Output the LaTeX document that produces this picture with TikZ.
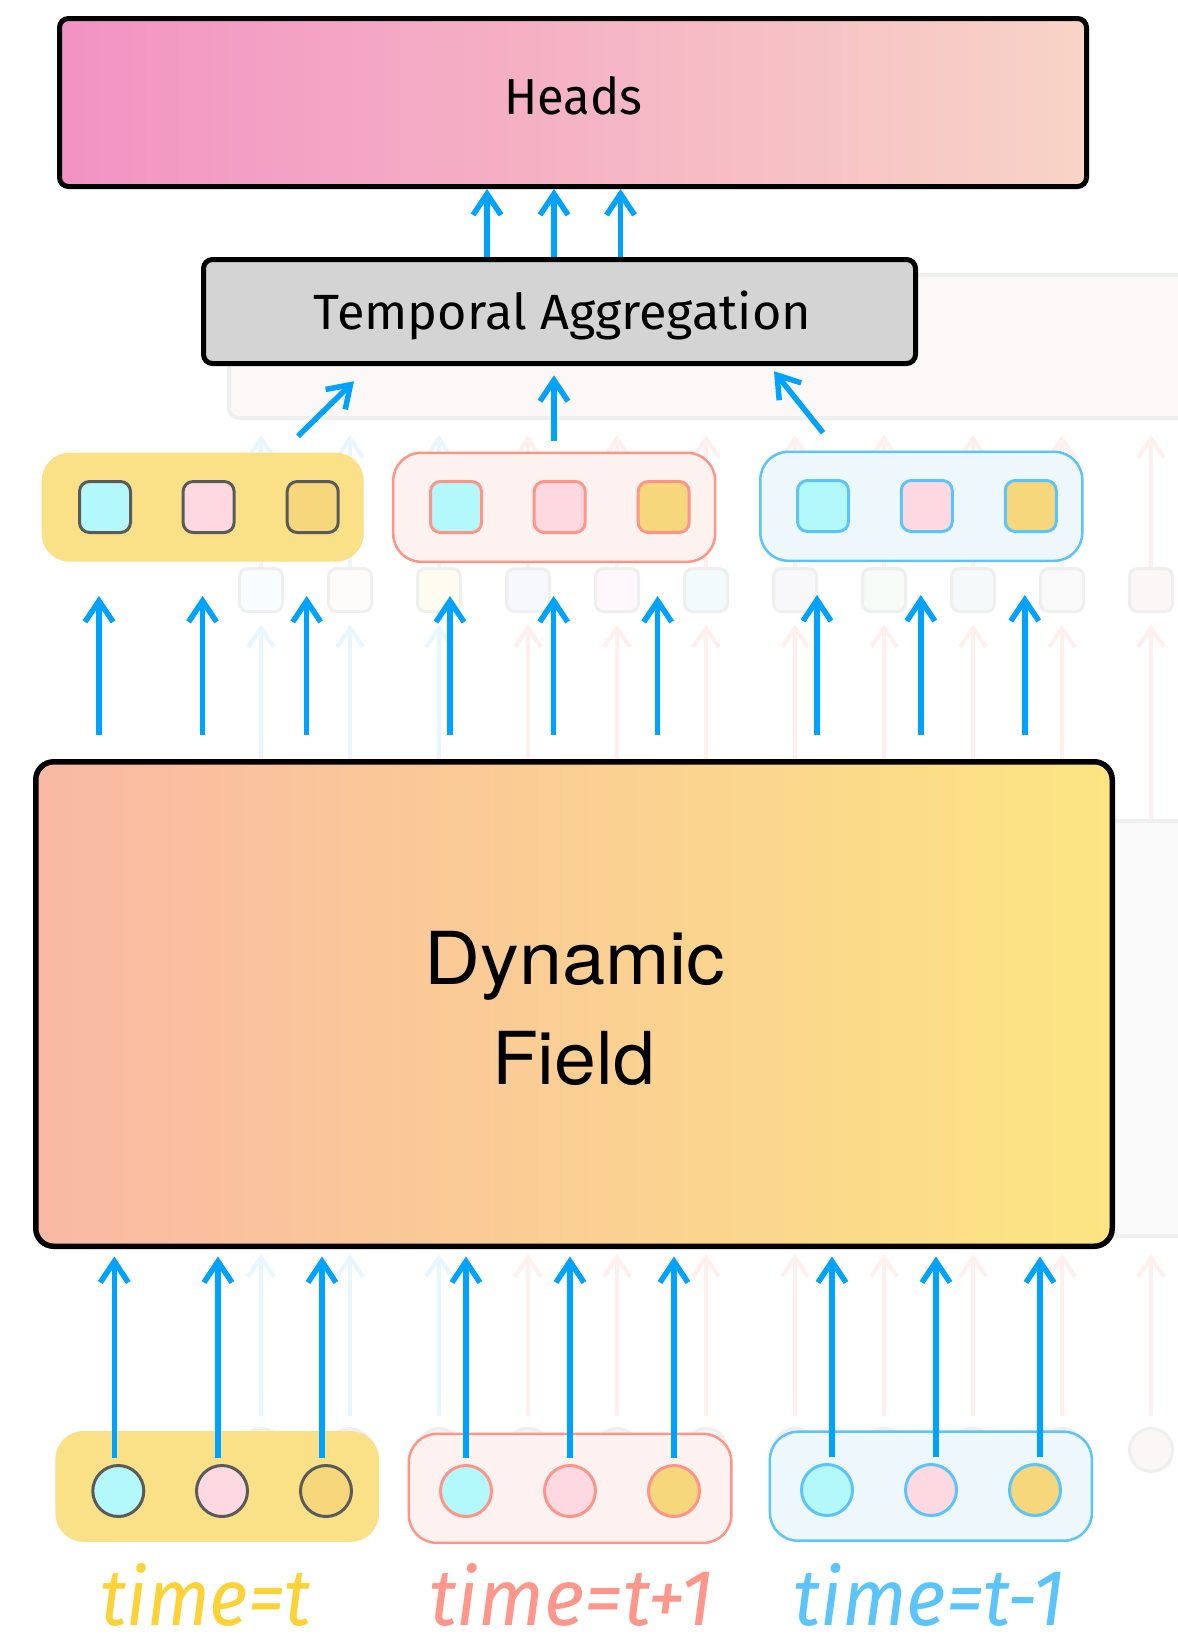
\documentclass[tikz,border=0pt]{standalone}
\usepackage{fontspec}
\setmainfont{Fira Sans}
\newfontfamily\fieldfont{TeX Gyre Heros}
\usetikzlibrary{arrows.meta,calc}

% palette
\definecolor{arrowblue}{HTML}{00A2FF}
\definecolor{headsL}{HTML}{F293C3}
\definecolor{headsR}{HTML}{F8D4C6}
\definecolor{aggfill}{HTML}{D4D4D4}
\definecolor{fieldL}{HTML}{F9B9A4}
\definecolor{fieldR}{HTML}{FCE582}
\definecolor{grpyellow}{HTML}{FAE187}
\definecolor{grppinkfill}{HTML}{FEF2F1}
\definecolor{grppinkline}{HTML}{FF9589}
\definecolor{grpbluefill}{HTML}{EEF8FC}
\definecolor{grpblueline}{HTML}{5CC4FA}
\definecolor{tokcyan}{HTML}{B3F9FC}
\definecolor{tokpink}{HTML}{FFD9E2}
\definecolor{tokgold}{HTML}{F6D77C}
\definecolor{tokgray}{HTML}{5A5A5A}
\definecolor{timeyellow}{HTML}{FDD236}
\definecolor{timepink}{HTML}{FF968B}
\definecolor{timeblue}{HTML}{5BC4FB}
% faint layer in the back
\definecolor{ghostblue}{HTML}{E8F6FF}
\definecolor{ghostpink}{HTML}{FFF0EE}
\definecolor{ghostline}{HTML}{EFEFEF}
\definecolor{ghostagg}{HTML}{FDF8F8}
\definecolor{ghostfield}{HTML}{FAFAFA}
\definecolor{gfA}{HTML}{F8FEFF}
\definecolor{gfB}{HTML}{FDFCFA}
\definecolor{gfC}{HTML}{FEFBF0}
\definecolor{gfD}{HTML}{F7F8FC}
\definecolor{gfE}{HTML}{FEF8FC}
\definecolor{gfF}{HTML}{F2FAFC}
\definecolor{gfG}{HTML}{F8F8FA}
\definecolor{gfH}{HTML}{F7FBF8}
\definecolor{gfI}{HTML}{F5F9FA}
\definecolor{gfJ}{HTML}{F9F9F9}
\definecolor{gfK}{HTML}{FBF7F6}

\begin{document}
\begin{tikzpicture}[x=1pt,y=-1pt,
  arr/.style={draw=arrowblue, line width=5.5pt,
    -{Straight Barb[length=21pt,width=28pt]}},
  ghostarr/.style={line width=4pt,
    -{Straight Barb[length=19pt,width=26pt]}},
  bigbox/.style={draw=black, line width=5pt, rounded corners=9pt, inner sep=0pt},
  grp/.style={rounded corners=28pt, line width=2.5pt, inner sep=0pt,
    minimum width=322pt, minimum height=109pt},
  tok/.style={draw, line width=3pt, rounded corners=10pt, inner sep=0pt,
    minimum width=51pt, minimum height=51pt},
  tokdot/.style={circle, draw, line width=3pt, inner sep=0pt, minimum size=51pt},
  ghosttok/.style={draw=ghostline, line width=3pt, rounded corners=8pt, inner sep=0pt,
    minimum width=43pt, minimum height=43pt},
  ghostdot/.style={circle, draw=ghostline, fill=gfK, line width=3pt, inner sep=0pt,
    minimum size=43pt},
  label/.style={anchor=base, inner sep=0pt},
]
\useasboundingbox (0,0) rectangle (1178,1634);
\fill[white] (0,0) rectangle (1178,1634);

% ---------- faint layer behind ----------
\node[draw=ghostline, fill=ghostagg, line width=4pt, rounded corners=10pt,
  minimum width=969pt, minimum height=143pt] (gAgg) at (713.5,346.5) {};
\node[draw=ghostline, fill=ghostfield, line width=4pt,
  minimum width=106pt, minimum height=415pt] (gField) at (1145,1028.5) {};
\foreach \k/\gf/\gc in {0/gfA/ghostblue,1/gfB/ghostblue,2/gfC/ghostblue,
    3/gfD/ghostpink,4/gfE/ghostpink,5/gfF/ghostpink,6/gfG/ghostpink,
    7/gfH/ghostpink,8/gfI/ghostpink,9/gfJ/ghostpink,10/gfK/ghostpink}{
  \node[ghosttok, fill=\gf] (gsq\k) at (261+89*\k,590) {};
  \node[ghostdot] (gc\k) at (261+89*\k,1450) {};
  \draw[ghostarr, draw=\gc, shorten >=15pt] (gsq\k.north) -- (gsq\k.north |- gAgg.south);
  \draw[ghostarr, draw=\gc, shorten >=11.5pt] (gsq\k.south |- gField.north) -- (gsq\k.south);
  \draw[ghostarr, draw=\gc, shorten <=11.5pt, shorten >=16pt] (gc\k.north) -- (gc\k.north |- gField.south);
}

% ---------- main blocks ----------
\node[bigbox, left color=headsL, right color=headsR,
  minimum width=1027pt, minimum height=168pt] (heads) at (573,102.5) {};
\node[label] (headsTxt) at (573.5,114) {\resizebox{138pt}{38pt}{Heads}};

\node[bigbox, fill=aggfill, minimum width=712pt, minimum height=104pt]
  (agg) at (559.5,311.5) {};
\node[label] (aggTxt) at (562.5,329.3)
  {\resizebox{497pt}{38.6pt}{Temporal Aggregation}};

\node[bigbox, line width=5.5pt, rounded corners=18pt, left color=fieldL, right color=fieldR,
  minimum width=1076.5pt, minimum height=484.5pt] (field) at (574,1004) {};
\node[label, font=\fieldfont\fontsize{73pt}{80pt}\selectfont]
  (fieldTxtA) at (575,984) {\scalebox{1.06}[1]{Dynamic}};
\node[label, font=\fieldfont\fontsize{73pt}{80pt}\selectfont]
  (fieldTxtB) at (573.5,1084) {\scalebox{1.03}[1]{Field}};

% ---------- token groups above the field ----------
\node[grp, fill=grpyellow] (gY) at (202.7,507.2) {};
\node[grp, fill=grppinkfill, draw=grppinkline] (gP) at (554.2,507.3) {};
\node[grp, fill=grpbluefill, draw=grpblueline] (gB) at (921.3,506.3) {};

\node[tok, draw=tokgray, fill=tokcyan] (sY1) at (105,507) {};
\node[tok, draw=tokgray, fill=tokpink] (sY2) at (208.6,507) {};
\node[tok, draw=tokgray, fill=tokgold] (sY3) at (312.7,507) {};
\node[tok, draw=grppinkline, fill=tokcyan] (sP1) at (456,507) {};
\node[tok, draw=grppinkline, fill=tokpink] (sP2) at (559.7,507) {};
\node[tok, draw=grppinkline, fill=tokgold] (sP3) at (663.7,507) {};
\node[tok, draw=grpblueline, fill=tokcyan] (sB1) at (823,506) {};
\node[tok, draw=grpblueline, fill=tokpink] (sB2) at (926.8,506) {};
\node[tok, draw=grpblueline, fill=tokgold] (sB3) at (1030.8,506) {};

% ---------- token groups at the input ----------
\node[grp, fill=grpyellow, minimum width=323.5pt, minimum height=110.7pt] (iY) at (217.2,1486.4) {};
\node[grp, fill=grppinkfill, draw=grppinkline, minimum width=322.5pt, minimum height=109pt] (iP) at (570.1,1488.4) {};
\node[grp, fill=grpbluefill, draw=grpblueline, minimum width=322pt, minimum height=109pt] (iB) at (930.9,1486.2) {};

\node[tokdot, draw=tokgray, fill=tokcyan] (cY1) at (118.3,1491) {};
\node[tokdot, draw=tokgray, fill=tokpink] (cY2) at (222,1491) {};
\node[tokdot, draw=tokgray, fill=tokgold] (cY3) at (326,1491) {};
\node[tokdot, draw=grppinkline, fill=tokcyan] (cP1) at (466,1491) {};
\node[tokdot, draw=grppinkline, fill=tokpink] (cP2) at (570,1491) {};
\node[tokdot, draw=grppinkline, fill=tokgold] (cP3) at (674,1491) {};
\node[tokdot, draw=grpblueline, fill=tokcyan] (cB1) at (827,1490) {};
\node[tokdot, draw=grpblueline, fill=tokpink] (cB2) at (931,1490) {};
\node[tokdot, draw=grpblueline, fill=tokgold] (cB3) at (1035,1490) {};

% ---------- connectors ----------
% aggregation -> heads
\foreach \dx in {-72.5,-5.5,61}
  \draw[arr] ([xshift=\dx pt]agg.north) -- ([xshift=\dx pt]agg.north |- heads.south);

% groups -> aggregation
\draw[arr] ([shift={(95.3,-15.3)}]gY.north) -- ([shift={(-205.5,15.25)}]agg.south);
\draw[arr] ([shift={(-0.2,-10.8)}]gP.north) -- ([shift={(-5.5,9.25)}]agg.south);
\draw[arr] ([shift={(-98.3,-17.8)}]gB.north) -- ([shift={(214.5,5.25)}]agg.south);

% field -> token groups
\foreach \s/\g in {sY1/gY,sY2/gY,sY3/gY,sP1/gP,sP2/gP,sP3/gP,sB1/gB,sB2/gB,sB3/gB}
  \draw[arr, shorten <=24pt, shorten >=33pt]
    ([xshift=-6pt]\s.center |- field.north) -- ([xshift=-6pt]\s.center |- \g.south);

% inputs -> field
\foreach \c/\dx in {cY1/-4,cY2/-4,cY3/-4,cP1/0,cP2/0,cP3/0,cB1/5,cB2/5,cB3/5}
  \draw[arr, shorten <=6.5pt, shorten >=7.5pt]
    ([xshift=\dx pt]\c.north) -- ([xshift=\dx pt]\c.north |- field.south);

% ---------- time labels ----------
\node[label, text=timeyellow] (tNow) at (205.6,1625)
  {\resizebox{211pt}{62pt}{\itshape time=t}};
\node[label, text=timepink] (tNext) at (571.5,1625)
  {\resizebox{284pt}{62pt}{\itshape time=t+1}};
\node[label, text=timeblue] (tPrev) at (929.5,1625)
  {\resizebox{271.4pt}{62pt}{\itshape time=t-1}};
\end{tikzpicture}
\end{document}
